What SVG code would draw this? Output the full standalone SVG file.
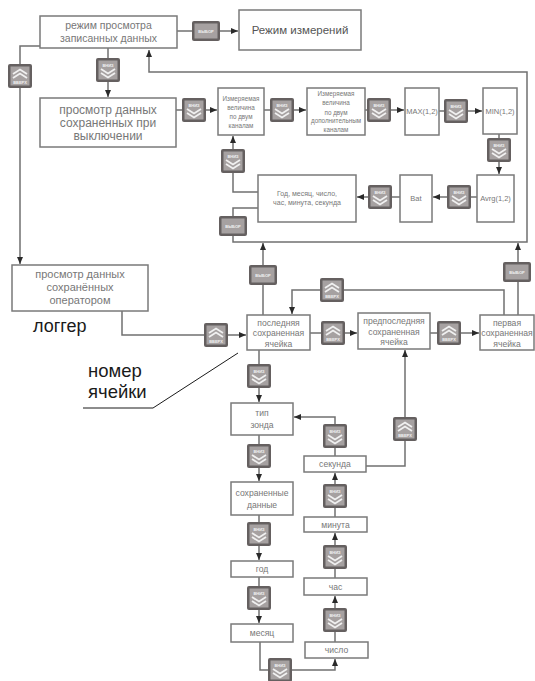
<svg xmlns="http://www.w3.org/2000/svg" width="535" height="681" viewBox="0 0 535 681">
<style>
.bx{fill:#fff;stroke:#7a7a7a;stroke-width:1.5}
.t{font-family:"Liberation Sans",Arial,sans-serif;fill:#777;text-anchor:middle}
.ln{fill:none;stroke:#707070;stroke-width:1.5}
.bo{fill:#656060}
.bi{fill:#a6a1a1}
.bt{font-family:"Liberation Sans",Arial,sans-serif;font-size:4px;font-weight:bold;fill:#f2f2f2;text-anchor:middle}
.ch{fill:none;stroke:#f0f0f0;stroke-width:1.8}
.lab{font-family:"Liberation Sans",Arial,sans-serif;fill:#1a1a1a}
</style>
<defs>
<marker id="ar" markerWidth="7" markerHeight="6" refX="7" refY="3" orient="auto" markerUnits="userSpaceOnUse">
<path d="M0,0 L7,3 L0,6 Z" fill="#2a2a2a"/>
</marker>
</defs>

<g id="connectors">
<path class="ln" d="M177,31 H238" marker-end="url(#ar)"/>
<path class="ln" d="M108,48 V97" marker-end="url(#ar)"/>
<path class="ln" d="M40,46 H20 V264" marker-end="url(#ar)"/>
<path class="ln" d="M176,110 H217" marker-end="url(#ar)"/>
<path class="ln" d="M264,110 H306" marker-end="url(#ar)"/>
<path class="ln" d="M365,110 H404" marker-end="url(#ar)"/>
<path class="ln" d="M439,111 H482" marker-end="url(#ar)"/>
<path class="ln" d="M499,134 V174" marker-end="url(#ar)"/>
<path class="ln" d="M477,197 H433" marker-end="url(#ar)"/>
<path class="ln" d="M400,197 H357" marker-end="url(#ar)"/>
<path class="ln" d="M258,192 H233 V136" marker-end="url(#ar)"/>
<path class="ln" d="M258,208 H233 V242 H527 V72 H149 V50" marker-end="url(#ar)"/>
<path class="ln" d="M263,315 V243" marker-end="url(#ar)"/>
<path class="ln" d="M518,315 V243" marker-end="url(#ar)"/>
<path class="ln" d="M504,315 V290 H292 V314" marker-end="url(#ar)"/>
<path class="ln" d="M122,311 V335 H246" marker-end="url(#ar)"/>
<path class="ln" d="M310,333 H357" marker-end="url(#ar)"/>
<path class="ln" d="M430,333 H479" marker-end="url(#ar)"/>
<path class="ln" d="M259,350 V402" marker-end="url(#ar)"/>
<path class="ln" d="M259,435 V481" marker-end="url(#ar)"/>
<path class="ln" d="M259,515 V560" marker-end="url(#ar)"/>
<path class="ln" d="M259,577 V623" marker-end="url(#ar)"/>
<path class="ln" d="M260,642 V670 H335 V659" marker-end="url(#ar)"/>
<path class="ln" d="M335,642 V596" marker-end="url(#ar)"/>
<path class="ln" d="M335,578 V533" marker-end="url(#ar)"/>
<path class="ln" d="M335,517 V473" marker-end="url(#ar)"/>
<path class="ln" d="M335,456 V417 H294" marker-end="url(#ar)"/>
<path class="ln" d="M366,466 H405 V350" marker-end="url(#ar)"/>
<path d="M83,408 H153 L238,353" fill="none" stroke="#1a1a1a" stroke-width="1"/>
</g>

<g id="n-view-mode"><rect class="bx" x="40" y="16" width="137" height="32"/>
<text class="t" font-size="10.5" x="108.5" y="29">режим просмотра</text>
<text class="t" font-size="10.5" x="108.5" y="42">записанных данных</text></g>

<g id="n-measure"><rect class="bx" x="239" y="10" width="122" height="40"/>
<text class="t" font-size="11.5" x="300" y="34" style="fill:#555">Режим измерений</text></g>

<g id="n-poweroff"><rect class="bx" x="40" y="98" width="136" height="49"/>
<text class="t" font-size="12" x="108" y="114">просмотр данных</text>
<text class="t" font-size="12" x="108" y="127">сохраненных при</text>
<text class="t" font-size="12" x="108" y="140">выключении</text></g>

<g id="n-meas2"><rect class="bx" x="218" y="88" width="46" height="47"/>
<text class="t" font-size="6.3" x="241" y="101">Измеряемая</text>
<text class="t" font-size="6.3" x="241" y="110">величина</text>
<text class="t" font-size="6.3" x="241" y="119">по двум</text>
<text class="t" font-size="6.3" x="241" y="128">каналам</text></g>

<g id="n-meas2ext"><rect class="bx" x="307" y="88" width="58" height="47"/>
<text class="t" font-size="6.3" x="336" y="96">Измеряемая</text>
<text class="t" font-size="6.3" x="336" y="105">величина</text>
<text class="t" font-size="6.3" x="336" y="114.5">по двум</text>
<text class="t" font-size="6.3" x="336" y="123">дополнительным</text>
<text class="t" font-size="6.3" x="336" y="131.5">каналам</text></g>

<g id="n-max"><rect class="bx" x="405" y="88" width="34" height="47"/>
<text class="t" font-size="7.5" x="422" y="114">MAX(1,2)</text></g>

<g id="n-min"><rect class="bx" x="483" y="88" width="34" height="46"/>
<text class="t" font-size="7.5" x="500" y="114">MIN(1,2)</text></g>

<g id="n-avrg"><rect class="bx" x="477" y="175" width="37" height="47"/>
<text class="t" font-size="7.5" x="495.5" y="201">Avrg(1,2)</text></g>

<g id="n-bat"><rect class="bx" x="400" y="175" width="32" height="47"/>
<text class="t" font-size="7.5" x="416" y="201">Bat</text></g>

<g id="n-datetime"><rect class="bx" x="258" y="175" width="98" height="47"/>
<text class="t" font-size="7" x="307" y="196">Год, месяц, число,</text>
<text class="t" font-size="7" x="307" y="205">час, минута, секунда</text></g>

<g id="n-operator"><rect class="bx" x="12" y="265" width="136" height="46"/>
<text class="t" font-size="11" x="80" y="278">просмотр данных</text>
<text class="t" font-size="11" x="80" y="291">сохранённых</text>
<text class="t" font-size="11" x="80" y="304">оператором</text></g>

<g id="n-last"><rect class="bx" x="247" y="315" width="63" height="35"/>
<text class="t" font-size="8.6" x="278.5" y="326">последняя</text>
<text class="t" font-size="8.6" x="278.5" y="336">сохраненная</text>
<text class="t" font-size="8.6" x="278.5" y="347">ячейка</text></g>

<g id="n-prelast"><rect class="bx" x="358" y="313" width="72" height="36"/>
<text class="t" font-size="8.6" x="394" y="324">предпоследняя</text>
<text class="t" font-size="8.6" x="394" y="334.5">сохраненная</text>
<text class="t" font-size="8.6" x="394" y="345">ячейка</text></g>

<g id="n-first"><rect class="bx" x="480" y="315" width="54" height="35"/>
<text class="t" font-size="8.6" x="507" y="326">первая</text>
<text class="t" font-size="8.6" x="507" y="336">сохраненная</text>
<text class="t" font-size="8.6" x="507" y="347">ячейка</text></g>

<g id="n-probe"><rect class="bx" x="231" y="403" width="62" height="32"/>
<text class="t" font-size="8.6" x="262" y="416">тип</text>
<text class="t" font-size="8.6" x="262" y="428">зонда</text></g>

<g id="n-saved"><rect class="bx" x="231" y="482" width="62" height="33"/>
<text class="t" font-size="8.6" x="262" y="496">сохраненные</text>
<text class="t" font-size="8.6" x="262" y="508">данные</text></g>

<g id="n-year"><rect class="bx" x="231" y="561" width="62" height="16"/>
<text class="t" font-size="8.6" x="262" y="572">год</text></g>

<g id="n-month"><rect class="bx" x="231" y="624" width="62" height="18"/>
<text class="t" font-size="8.6" x="262" y="636">месяц</text></g>

<g id="n-second"><rect class="bx" x="304" y="456" width="62" height="16"/>
<text class="t" font-size="8.6" x="335" y="467">секунда</text></g>

<g id="n-minute"><rect class="bx" x="304" y="517" width="63" height="15"/>
<text class="t" font-size="8.6" x="335.5" y="527.5">минута</text></g>

<g id="n-hour"><rect class="bx" x="304" y="578" width="63" height="17"/>
<text class="t" font-size="8.6" x="335.5" y="589.5">час</text></g>

<g id="n-day"><rect class="bx" x="305" y="642" width="63" height="16"/>
<text class="t" font-size="8.6" x="336.5" y="653">число</text></g>

<g id="b-sel-top" transform="translate(192,21)"><rect class="bo" width="28" height="20" rx="2"/><rect class="bi" x="2.5" y="2.5" width="23" height="15"/><text class="bt" x="14" y="11.5">ВЫБОР</text></g>
<g id="b-sel-1" transform="translate(219,216)"><rect class="bo" width="28" height="20" rx="2"/><rect class="bi" x="2.5" y="2.5" width="23" height="15"/><text class="bt" x="14" y="11.5">ВЫБОР</text></g>
<g id="b-sel-2" transform="translate(249,265)"><rect class="bo" width="28" height="20" rx="2"/><rect class="bi" x="2.5" y="2.5" width="23" height="15"/><text class="bt" x="14" y="11.5">ВЫБОР</text></g>
<g id="b-sel-3" transform="translate(503,262)"><rect class="bo" width="28" height="20" rx="2"/><rect class="bi" x="2.5" y="2.5" width="23" height="15"/><text class="bt" x="14" y="11.5">ВЫБОР</text></g>

<g id="b-up-1" transform="translate(8,64)"><rect class="bo" width="24" height="24" rx="2"/><rect class="bi" x="2.5" y="2.5" width="19" height="19"/><path class="ch" d="M5,10 L12,5.5 L19,10 M5,14 L12,9.5 L19,14"/><text class="bt" x="12" y="20">ВВЕРХ</text></g>
<g id="b-up-2" transform="translate(320,278)"><rect class="bo" width="24" height="24" rx="2"/><rect class="bi" x="2.5" y="2.5" width="19" height="19"/><path class="ch" d="M5,10 L12,5.5 L19,10 M5,14 L12,9.5 L19,14"/><text class="bt" x="12" y="20">ВВЕРХ</text></g>
<g id="b-up-3" transform="translate(204,323)"><rect class="bo" width="24" height="24" rx="2"/><rect class="bi" x="2.5" y="2.5" width="19" height="19"/><path class="ch" d="M5,10 L12,5.5 L19,10 M5,14 L12,9.5 L19,14"/><text class="bt" x="12" y="20">ВВЕРХ</text></g>
<g id="b-up-4" transform="translate(321,321)"><rect class="bo" width="24" height="24" rx="2"/><rect class="bi" x="2.5" y="2.5" width="19" height="19"/><path class="ch" d="M5,10 L12,5.5 L19,10 M5,14 L12,9.5 L19,14"/><text class="bt" x="12" y="20">ВВЕРХ</text></g>
<g id="b-up-5" transform="translate(437,321)"><rect class="bo" width="24" height="24" rx="2"/><rect class="bi" x="2.5" y="2.5" width="19" height="19"/><path class="ch" d="M5,10 L12,5.5 L19,10 M5,14 L12,9.5 L19,14"/><text class="bt" x="12" y="20">ВВЕРХ</text></g>
<g id="b-up-6" transform="translate(393,417)"><rect class="bo" width="24" height="24" rx="2"/><rect class="bi" x="2.5" y="2.5" width="19" height="19"/><path class="ch" d="M5,10 L12,5.5 L19,10 M5,14 L12,9.5 L19,14"/><text class="bt" x="12" y="20">ВВЕРХ</text></g>

<g id="b-dn-1" transform="translate(96,58)"><rect class="bo" width="24" height="24" rx="2"/><rect class="bi" x="2.5" y="2.5" width="19" height="19"/><text class="bt" x="12" y="8.5">ВНИЗ</text><path class="ch" d="M5,11 L12,15.5 L19,11 M5,15 L12,19.5 L19,15"/></g>
<g id="b-dn-2" transform="translate(182,98)"><rect class="bo" width="24" height="24" rx="2"/><rect class="bi" x="2.5" y="2.5" width="19" height="19"/><text class="bt" x="12" y="8.5">ВНИЗ</text><path class="ch" d="M5,11 L12,15.5 L19,11 M5,15 L12,19.5 L19,15"/></g>
<g id="b-dn-3" transform="translate(270,98)"><rect class="bo" width="24" height="24" rx="2"/><rect class="bi" x="2.5" y="2.5" width="19" height="19"/><text class="bt" x="12" y="8.5">ВНИЗ</text><path class="ch" d="M5,11 L12,15.5 L19,11 M5,15 L12,19.5 L19,15"/></g>
<g id="b-dn-4" transform="translate(367,98)"><rect class="bo" width="24" height="24" rx="2"/><rect class="bi" x="2.5" y="2.5" width="19" height="19"/><text class="bt" x="12" y="8.5">ВНИЗ</text><path class="ch" d="M5,11 L12,15.5 L19,11 M5,15 L12,19.5 L19,15"/></g>
<g id="b-dn-5" transform="translate(444,99)"><rect class="bo" width="24" height="24" rx="2"/><rect class="bi" x="2.5" y="2.5" width="19" height="19"/><text class="bt" x="12" y="8.5">ВНИЗ</text><path class="ch" d="M5,11 L12,15.5 L19,11 M5,15 L12,19.5 L19,15"/></g>
<g id="b-dn-6" transform="translate(487,138)"><rect class="bo" width="24" height="24" rx="2"/><rect class="bi" x="2.5" y="2.5" width="19" height="19"/><text class="bt" x="12" y="8.5">ВНИЗ</text><path class="ch" d="M5,11 L12,15.5 L19,11 M5,15 L12,19.5 L19,15"/></g>
<g id="b-dn-7" transform="translate(447,185)"><rect class="bo" width="24" height="24" rx="2"/><rect class="bi" x="2.5" y="2.5" width="19" height="19"/><text class="bt" x="12" y="8.5">ВНИЗ</text><path class="ch" d="M5,11 L12,15.5 L19,11 M5,15 L12,19.5 L19,15"/></g>
<g id="b-dn-8" transform="translate(368,185)"><rect class="bo" width="24" height="24" rx="2"/><rect class="bi" x="2.5" y="2.5" width="19" height="19"/><text class="bt" x="12" y="8.5">ВНИЗ</text><path class="ch" d="M5,11 L12,15.5 L19,11 M5,15 L12,19.5 L19,15"/></g>
<g id="b-dn-9" transform="translate(221,149)"><rect class="bo" width="24" height="24" rx="2"/><rect class="bi" x="2.5" y="2.5" width="19" height="19"/><text class="bt" x="12" y="8.5">ВНИЗ</text><path class="ch" d="M5,11 L12,15.5 L19,11 M5,15 L12,19.5 L19,15"/></g>
<g id="b-dn-10" transform="translate(247,364)"><rect class="bo" width="24" height="24" rx="2"/><rect class="bi" x="2.5" y="2.5" width="19" height="19"/><text class="bt" x="12" y="8.5">ВНИЗ</text><path class="ch" d="M5,11 L12,15.5 L19,11 M5,15 L12,19.5 L19,15"/></g>
<g id="b-dn-11" transform="translate(247,444)"><rect class="bo" width="24" height="24" rx="2"/><rect class="bi" x="2.5" y="2.5" width="19" height="19"/><text class="bt" x="12" y="8.5">ВНИЗ</text><path class="ch" d="M5,11 L12,15.5 L19,11 M5,15 L12,19.5 L19,15"/></g>
<g id="b-dn-12" transform="translate(247,522)"><rect class="bo" width="24" height="24" rx="2"/><rect class="bi" x="2.5" y="2.5" width="19" height="19"/><text class="bt" x="12" y="8.5">ВНИЗ</text><path class="ch" d="M5,11 L12,15.5 L19,11 M5,15 L12,19.5 L19,15"/></g>
<g id="b-dn-13" transform="translate(247,586)"><rect class="bo" width="24" height="24" rx="2"/><rect class="bi" x="2.5" y="2.5" width="19" height="19"/><text class="bt" x="12" y="8.5">ВНИЗ</text><path class="ch" d="M5,11 L12,15.5 L19,11 M5,15 L12,19.5 L19,15"/></g>
<g id="b-dn-14" transform="translate(268,658)"><rect class="bo" width="24" height="24" rx="2"/><rect class="bi" x="2.5" y="2.5" width="19" height="19"/><text class="bt" x="12" y="8.5">ВНИЗ</text><path class="ch" d="M5,11 L12,15.5 L19,11 M5,15 L12,19.5 L19,15"/></g>
<g id="b-dn-15" transform="translate(323,608)"><rect class="bo" width="24" height="24" rx="2"/><rect class="bi" x="2.5" y="2.5" width="19" height="19"/><text class="bt" x="12" y="8.5">ВНИЗ</text><path class="ch" d="M5,11 L12,15.5 L19,11 M5,15 L12,19.5 L19,15"/></g>
<g id="b-dn-16" transform="translate(323,545)"><rect class="bo" width="24" height="24" rx="2"/><rect class="bi" x="2.5" y="2.5" width="19" height="19"/><text class="bt" x="12" y="8.5">ВНИЗ</text><path class="ch" d="M5,11 L12,15.5 L19,11 M5,15 L12,19.5 L19,15"/></g>
<g id="b-dn-17" transform="translate(323,484)"><rect class="bo" width="24" height="24" rx="2"/><rect class="bi" x="2.5" y="2.5" width="19" height="19"/><text class="bt" x="12" y="8.5">ВНИЗ</text><path class="ch" d="M5,11 L12,15.5 L19,11 M5,15 L12,19.5 L19,15"/></g>
<g id="b-dn-18" transform="translate(323,424)"><rect class="bo" width="24" height="24" rx="2"/><rect class="bi" x="2.5" y="2.5" width="19" height="19"/><text class="bt" x="12" y="8.5">ВНИЗ</text><path class="ch" d="M5,11 L12,15.5 L19,11 M5,15 L12,19.5 L19,15"/></g>

<g id="labels">
<text class="lab" font-size="18" x="33" y="332">логгер</text>
<text class="lab" font-size="18.5" x="88" y="377">номер</text>
<text class="lab" font-size="18.5" x="88" y="398">ячейки</text>
</g>
</svg>
